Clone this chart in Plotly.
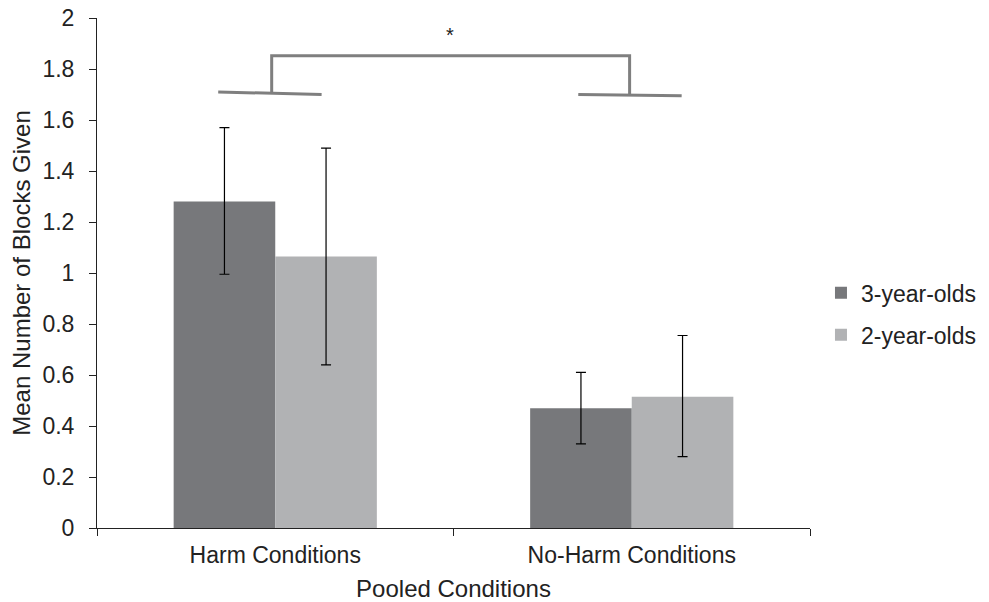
import plotly.graph_objects as go

categories = ["Harm Conditions", "No-Harm Conditions"]
series_names = ["3-year-olds", "2-year-olds"]
means_3yo = [1.28, 0.47]
means_2yo = [1.065, 0.515]
err_hi_3yo = [0.29, 0.14]
err_lo_3yo = [0.285, 0.14]
err_hi_2yo = [0.425, 0.24]
err_lo_2yo = [0.425, 0.235]
colors = ["#77787b", "#b1b2b4"]
y_ticks = [0, 0.2, 0.4, 0.6, 0.8, 1, 1.2, 1.4, 1.6, 1.8, 2]
y_tick_labels = ["0", "0.2", "0.4", "0.6", "0.8", "1", "1.2", "1.4", "1.6", "1.8", "2"]

font = "Liberation Sans, Arial, sans-serif"

fig = go.Figure()
for name, vals, hi, lo, col in [
    (series_names[0], means_3yo, err_hi_3yo, err_lo_3yo, colors[0]),
    (series_names[1], means_2yo, err_hi_2yo, err_lo_2yo, colors[1]),
]:
    fig.add_trace(go.Bar(
        x=categories, y=vals, name=name, legendgroup=name,
        marker_color=col, marker_line_width=0,
        error_y=dict(type="data", symmetric=False, array=hi, arrayminus=lo,
                     color="black", thickness=1.2, width=5),
    ))

# significance bracket (in data coordinates; categories are 0 and 1)
br = dict(color="#7f7f7f", width=3)
fig.add_shape(type="line", x0=-0.16, x1=0.13, y0=1.71, y1=1.70, xref="x", yref="y", line=br)
fig.add_shape(type="line", x0=0.85, x1=1.14, y0=1.70, y1=1.695, xref="x", yref="y", line=br)
fig.add_shape(type="path", path="M -0.01,1.705 L -0.01,1.852 L 0.994,1.852 L 0.994,1.70",
              xref="x", yref="y", line=br)
fig.add_annotation(x=0.49, y=1.935, xref="x", yref="y", text="*", showarrow=False,
                   font=dict(size=20, color="#222", family=font))

fig.update_layout(
    width=981, height=594,
    margin=dict(l=89, r=179, t=10, b=74, autoexpand=False),
    plot_bgcolor="white", paper_bgcolor="white",
    barmode="group", bargap=0.43, bargroupgap=0,
    font=dict(family=font, size=23, color="#222"),
    showlegend=True,
    legend=dict(x=1.0154, y=0.42, xanchor="left", yanchor="middle",
                font=dict(size=23), traceorder="grouped", tracegroupgap=9, itemwidth=30),
    xaxis=dict(
        showline=True, linecolor="#222", linewidth=1,
        ticks="outside", ticklen=7, tickcolor="#222", tickson="boundaries",
        tickfont=dict(size=23), ticklabelstandoff=6,
        title=dict(text="Pooled Conditions", font=dict(size=24), standoff=14),
        showgrid=False, zeroline=False,
    ),
    yaxis=dict(
        range=[0, 2], tickvals=y_ticks, ticktext=y_tick_labels,
        showline=True, linecolor="#222", linewidth=1,
        ticks="outside", ticklen=7, tickcolor="#222", ticklabelstandoff=10,
        ticklabeloverflow="allow",
        tickfont=dict(size=23),
        title=dict(text="Mean Number of Blocks Given", font=dict(size=24), standoff=6),
        showgrid=False, zeroline=False,
    ),
)

fig.write_html("out.html")
